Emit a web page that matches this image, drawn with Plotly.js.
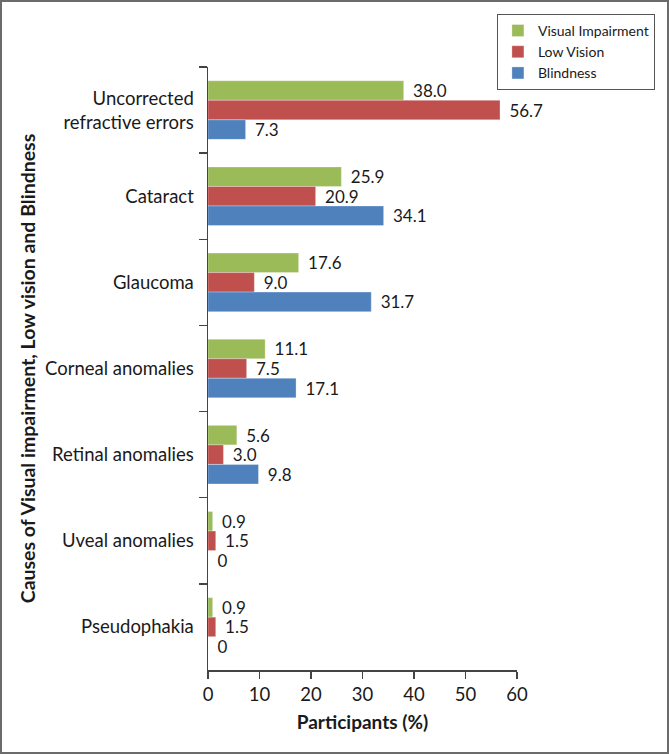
<!DOCTYPE html>
<html>
<head>
<meta charset="utf-8">
<script src="https://cdn.plot.ly/plotly-3.0.1.min.js"></script>
<style>
html,body{margin:0;padding:0;background:#fff;}
#chart{width:669px;height:754px;box-sizing:border-box;border:2px solid #6b6b6b;}
</style>
</head>
<body>
<div id="chart"></div>
<script>
const categories = ["Uncorrected<br>refractive errors","Cataract","Glaucoma","Corneal anomalies","Retinal anomalies","Uveal anomalies","Pseudophakia"];
const visualImpairment = [38.0, 25.9, 17.6, 11.1, 5.6, 0.9, 0.9];
const lowVision = [56.7, 20.9, 9.0, 7.5, 3.0, 1.5, 1.5];
const blindness = [7.3, 34.1, 31.7, 17.1, 9.8, 0, 0];
const seriesNames = ["Visual Impairment","Low Vision","Blindness"];
const seriesColors = ["#9BBB59","#C0504D","#4F81BD"];
const xTicks = [0,10,20,30,40,50,60];

const fmt = v => (v === 0 ? "0" : v.toFixed(1));
const FONT = "Lato, 'Open Sans', sans-serif";

const traces = [visualImpairment, lowVision, blindness].map((vals, i) => ({
  type: "bar",
  orientation: "h",
  name: seriesNames[i],
  y: categories,
  x: vals,
  text: vals.map(v => "\u2009\u2009\u2009" + fmt(v)),
  textposition: "outside",
  constraintext: "none",
  cliponaxis: false,
  textfont: {family: FONT, size: 17, color: "#1a1a1a"},
  marker: {color: seriesColors[i], line: {color: "rgba(255,255,255,0.6)", width: 0.5}},
  hoverinfo: "x+name"
}));

const layout = {
  width: 665, height: 750,
  margin: {l: 206, r: 150, t: 63, b: 82, pad: 0},
  paper_bgcolor: "#fff", plot_bgcolor: "#fff",
  barmode: "group",
  bargap: 0.32,
  bargroupgap: 0,
  font: {family: FONT, color: "#1a1a1a"},
  showlegend: true,
  legend: {
    x: 0.935, y: 1.088, xanchor: "left", yanchor: "top",
    bordercolor: "#555", borderwidth: 1, bgcolor: "#fff",
    font: {family: FONT, size: 14, color: "#1a1a1a"},
    traceorder: "normal",
    itemwidth: 30, tracegroupgap: 0
  },
  xaxis: {
    range: [0, 60], tickvals: xTicks, ticktext: xTicks.map(String),
    showgrid: false, zeroline: false,
    showline: true, linecolor: "#444", linewidth: 1.5,
    ticks: "outside", ticklen: 7, tickcolor: "#444", tickwidth: 1.5,
    tickfont: {family: FONT, size: 18.5, color: "#1a1a1a"},
    title: {text: "<b>Participants (%)</b>", font: {family: FONT, size: 19, color: "#1a1a1a"}, standoff: 12}
  },
  yaxis: {
    type: "category", autorange: "reversed",
    showgrid: false, zeroline: false,
    showline: true, linecolor: "#444", linewidth: 1.5,
    ticks: "outside", tickson: "boundaries", ticklen: 8, tickcolor: "#444", tickwidth: 1.5,
    tickfont: {family: FONT, size: 18.5, color: "#1a1a1a"},
    ticklabelstandoff: 9,
    title: {text: "<b>Causes of Visual impairment, Low vision and Blindness</b>", font: {family: FONT, size: 19.5, color: "#1a1a1a"}, standoff: 4}
  }
};

Plotly.newPlot("chart", traces, layout, {displayModeBar: false, staticPlot: true});
</script>
</body>
</html>
